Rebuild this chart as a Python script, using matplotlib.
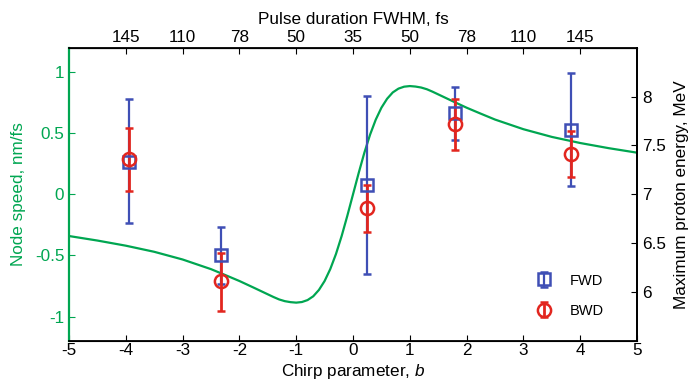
import matplotlib
matplotlib.use("Agg")
import matplotlib.pyplot as plt
import numpy as np

plt.rcParams['font.family'] = ['Liberation Sans', 'DejaVu Sans']
plt.rcParams['axes.unicode_minus'] = False
plt.rcParams['mathtext.fontset'] = 'custom'
plt.rcParams['mathtext.rm'] = 'Liberation Sans'
plt.rcParams['mathtext.it'] = 'Liberation Sans:italic'

# Theoretical node speed curve (left axis)
curve_b = [-5, -4.5, -4, -3.5, -3, -2.5, -2.25, -2, -1.75, -1.5, -1.4, -1.3, -1.2, -1.1, -1.0,
           -0.9, -0.8, -0.7, -0.6, -0.5, -0.4, -0.3, -0.2, -0.1, 0, 0.1, 0.2, 0.3, 0.4, 0.5,
           0.6, 0.7, 0.8, 0.9, 1.0, 1.1, 1.2, 1.3, 1.4, 1.5, 1.75, 2, 2.25, 2.5, 3, 3.5, 4,
           4.5, 5]
curve_v = [-0.341, -0.378, -0.42, -0.47, -0.533, -0.612, -0.66, -0.709, -0.763, -0.818,
           -0.840, -0.860, -0.874, -0.882, -0.886, -0.881, -0.865, -0.834, -0.782, -0.709,
           -0.611, -0.488, -0.341, -0.175, 0.0, 0.175, 0.341, 0.488, 0.611, 0.709, 0.782,
           0.834, 0.865, 0.881, 0.886, 0.882, 0.874, 0.860, 0.840, 0.818, 0.763, 0.709,
           0.66, 0.612, 0.533, 0.47, 0.42, 0.378, 0.341]

# Measured maximum proton energy (right axis)
chirp = [-3.94, -2.33, 0.24, 1.80, 3.83]
fwd = [7.33, 6.38, 7.10, 7.83, 7.66]
fwd_lo = [6.71, 6.08, 6.19, 7.56, 7.09]
fwd_hi = [7.98, 6.67, 8.01, 8.10, 8.24]
bwd = [7.36, 6.11, 6.86, 7.72, 7.41]
bwd_lo = [7.03, 5.81, 6.62, 7.45, 7.18]
bwd_hi = [7.68, 6.40, 7.10, 7.98, 7.65]

bottom_ticks = [-5, -4, -3, -2, -1, 0, 1, 2, 3, 4, 5]
top_ticks = [-4, -3, -2, -1, 0, 1, 2, 3, 4]
top_labels = ['145', '110', '78', '50', '35', '50', '78', '110', '145']
left_ticks = [-1, -0.5, 0, 0.5, 1]
left_labels = ['-1', '-0.5', '0', '0.5', '1']
right_ticks = [6, 6.5, 7, 7.5, 8]
right_labels = ['6', '6.5', '7', '7.5', '8']

green = '#00A651'
blue = '#3F4FB5'
red = '#E2261F'
fs = 12.3

fig = plt.figure(figsize=(6.88, 3.80), dpi=100)
ax = fig.add_axes([0.1003, 0.1026, 0.8256, 0.7719])
ax.plot(curve_b, curve_v, color=green, lw=1.6, zorder=1)
ax.set_xlim(-5, 5)
ax.set_ylim(-1.2, 1.2)
ax.set_xticks(bottom_ticks)
ax.set_xticklabels([str(t) for t in bottom_ticks])
ax.set_yticks(left_ticks)
ax.set_yticklabels(left_labels)
ax.tick_params(axis='both', direction='in', length=4, labelsize=fs)
ax.tick_params(axis='x', pad=1.5)
ax.tick_params(axis='y', colors=green, labelcolor=green)
ax.spines['left'].set_color(green)
ax.spines['left'].set_linewidth(1.6)
for s in ['top', 'bottom', 'right']:
    ax.spines[s].set_linewidth(1.3)
ax.set_xlabel('Chirp parameter, $\\it{b}$', fontsize=fs)
ax.xaxis.set_label_coords(0.5, -0.070)
ax.set_ylabel('Node speed, nm/fs', fontsize=fs, color=green, labelpad=6)

sec = ax.secondary_xaxis('top')
sec.set_xticks(top_ticks)
sec.set_xticklabels(top_labels)
sec.tick_params(direction='in', length=4, labelsize=fs, pad=2)
sec.set_xlabel('Pulse duration FWHM, fs', fontsize=fs, labelpad=4)

ax2 = ax.twinx()
ax2.set_ylim(5.5, 8.5)
ax2.set_yticks(right_ticks)
ax2.set_yticklabels(right_labels)
ax2.tick_params(direction='in', length=4, labelsize=fs)
ax2.spines['left'].set_visible(False)
ax2.spines['right'].set_linewidth(1.3)
ax2.set_ylabel('Maximum proton energy, MeV', fontsize=fs, labelpad=6)

fwd_err = [np.array(fwd) - np.array(fwd_lo), np.array(fwd_hi) - np.array(fwd)]
bwd_err = [np.array(bwd) - np.array(bwd_lo), np.array(bwd_hi) - np.array(bwd)]
h1 = ax2.errorbar(chirp, fwd, yerr=fwd_err, fmt='s', color=blue, mfc='none', mec=blue,
                  ms=8, mew=1.8, elinewidth=1.6, capsize=3, capthick=1.6, label='FWD')
h2 = ax2.errorbar(chirp, bwd, yerr=bwd_err, fmt='o', color=red, mfc='none', mec=red,
                  ms=9.5, mew=1.8, elinewidth=2.0, capsize=3, capthick=1.8, label='BWD')
leg = ax2.legend(handles=[h1, h2], loc='lower right', bbox_to_anchor=(0.965, 0.035),
                 frameon=False, fontsize=10.5, handlelength=1.0, handletextpad=1.3,
                 labelspacing=1.1)

fig.savefig('out.png', dpi=100)
